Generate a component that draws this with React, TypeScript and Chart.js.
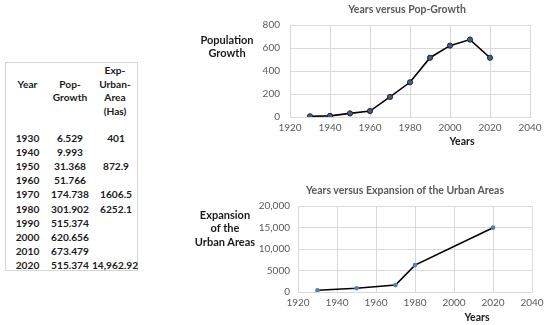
import React, { useEffect, useRef } from "react";
import { Chart, registerables } from "chart.js";

Chart.register(...registerables);

const years = [1930, 1940, 1950, 1960, 1970, 1980, 1990, 2000, 2010, 2020];
const popGrowth = [6.529, 9.993, 31.368, 51.766, 174.738, 301.902, 515.374, 620.656, 673.479, 515.374];
const urbanYears = [1930, 1950, 1970, 1980, 2020];
const urbanArea = [401, 872.9, 1606.5, 6252.1, 14962.92];
const urbanTableLabels = ["401", "", "872.9", "", "1606.5", "6252.1", "", "", "", "14,962.92"];
const popTitle = "Years versus Pop-Growth";
const urbanTitle = "Years versus Expansion of the Urban Areas";

const FONT = "Lato, 'Noto Sans', sans-serif";
const GRID = "#d9d9d9";
const TICK = "#595959";

function makeChart(
  canvas: HTMLCanvasElement,
  pts: { x: number; y: number }[],
  yMax: number,
  yStep: number,
  yLeft: number,
  yPad: number,
  topPad: number,
  xH: number,
  rightPad: number,
  pointOpts: any,
  yFmt: (v: number) => string
) {
  return new Chart(canvas, {
    type: "scatter",
    data: {
      datasets: [
        {
          data: pts,
          showLine: true,
          borderColor: "#000000",
          borderWidth: 1.6,
          ...pointOpts,
        },
      ],
    },
    options: {
      animation: false,
      responsive: false,
      devicePixelRatio: 1,
      layout: { padding: { top: topPad, right: rightPad, left: 0, bottom: 0 } },
      plugins: { legend: { display: false }, tooltip: { enabled: false } },
      scales: {
        x: {
          type: "linear",
          min: 1920,
          max: 2040,
          ticks: { stepSize: 20, color: TICK, font: { family: FONT, size: 10 }, padding: 5, callback: (v: any) => String(v) },
          grid: { color: GRID, drawTicks: false },
          border: { color: GRID },
          afterFit: (s: any) => {
            s.height = xH;
          },
        },
        y: {
          min: 0,
          max: yMax,
          ticks: { stepSize: yStep, color: TICK, font: { family: FONT, size: 10 }, padding: yPad, callback: (v: any) => yFmt(Number(v)) },
          grid: { color: GRID, drawTicks: false },
          border: { color: GRID },
          afterFit: (s: any) => {
            s.width = yLeft;
          },
        },
      },
    },
  } as any);
}

const abs = (left: number, top: number, extra: any = {}) => ({
  position: "absolute" as const,
  left,
  top,
  whiteSpace: "nowrap" as const,
  ...extra,
});

function Txt({ cx, cy, text, size = 10.2, weight = 700, color = "#1a1a1a" }: any) {
  return (
    <div
      style={abs(cx - 150, cy - 7, {
        width: 300,
        height: 14,
        lineHeight: "14px",
        textAlign: "center",
        fontFamily: FONT,
        fontSize: size,
        fontWeight: weight,
        color,
      })}
    >
      {text}
    </div>
  );
}

export default function App() {
  const c1 = useRef<HTMLCanvasElement>(null);
  const c2 = useRef<HTMLCanvasElement>(null);
  useEffect(() => {
    const ch1 = makeChart(
      c1.current!,
      years.map((x, i) => ({ x, y: popGrowth[i] })),
      800,
      200,
      100,
      10,
      25,
      33,
      20,
      { pointRadius: 2.6, pointBackgroundColor: "#46607f", pointBorderColor: "#1c2633", pointBorderWidth: 1 },
      (v) => String(v)
    );
    const ch2 = makeChart(
      c2.current!,
      urbanYears.map((x, i) => ({ x, y: urbanArea[i] })),
      20000,
      5000,
      108,
      8,
      36,
      33,
      18,
      { pointRadius: 2.3, pointBackgroundColor: "#4f81bd", pointBorderColor: "#4f81bd", pointBorderWidth: 0 },
      (v) => (v >= 10000 ? v.toLocaleString("en-US") : String(v))
    );
    return () => {
      ch1.destroy();
      ch2.destroy();
    };
  }, []);

  const rowY = (i: number) => 138 + i * 14.1;

  return (
    <div style={{ position: "fixed", left: 0, top: 0, width: 550, height: 325, background: "#fff", overflow: "hidden" }}>
      {/* table */}
      <div style={abs(5, 62, { width: 133, height: 209, border: "1px solid #d4d4d4", boxSizing: "border-box" })} />
      <Txt cx={27.5} cy={84} text="Year" />
      <Txt cx={70} cy={84} text="Pop-" />
      <Txt cx={70} cy={97} text="Growth" />
      <Txt cx={115} cy={70} text="Exp-" />
      <Txt cx={115} cy={84} text="Urban-" />
      <Txt cx={115} cy={97} text="Area" />
      <Txt cx={115} cy={111} text="(Has)" />
      {years.map((y, i) => (
        <React.Fragment key={y}>
          <Txt cx={27.5} cy={rowY(i)} text={String(y)} />
          <Txt cx={70} cy={rowY(i)} text={popGrowth[i].toFixed(3)} />
          {urbanTableLabels[i] ? <Txt cx={i === 9 ? 115 : 116} cy={rowY(i)} text={urbanTableLabels[i]} /> : null}
        </React.Fragment>
      ))}

      {/* chart 1 */}
      <canvas ref={c1} width={360} height={150} style={abs(190, 0, { width: 360, height: 150 })} />
      <Txt cx={407} cy={9} text={popTitle} size={10.5} weight={700} color="#595959" />
      <Txt cx={227} cy={40} text="Population" size={11} />
      <Txt cx={227} cy={53} text="Growth" size={11} />
      <Txt cx={462} cy={141} text="Years" size={10.5} />

      {/* chart 2 */}
      <canvas ref={c2} width={360} height={155} style={abs(190, 170, { width: 360, height: 155 })} />
      <Txt cx={405} cy={190} text={urbanTitle} size={10.5} weight={700} color="#595959" />
      <Txt cx={225} cy={215} text="Expansion" size={11} />
      <Txt cx={225} cy={228} text="of the" size={11} />
      <Txt cx={225} cy={242} text="Urban Areas" size={11} />
      <Txt cx={477} cy={317} text="Years" size={10.5} />
    </div>
  );
}
